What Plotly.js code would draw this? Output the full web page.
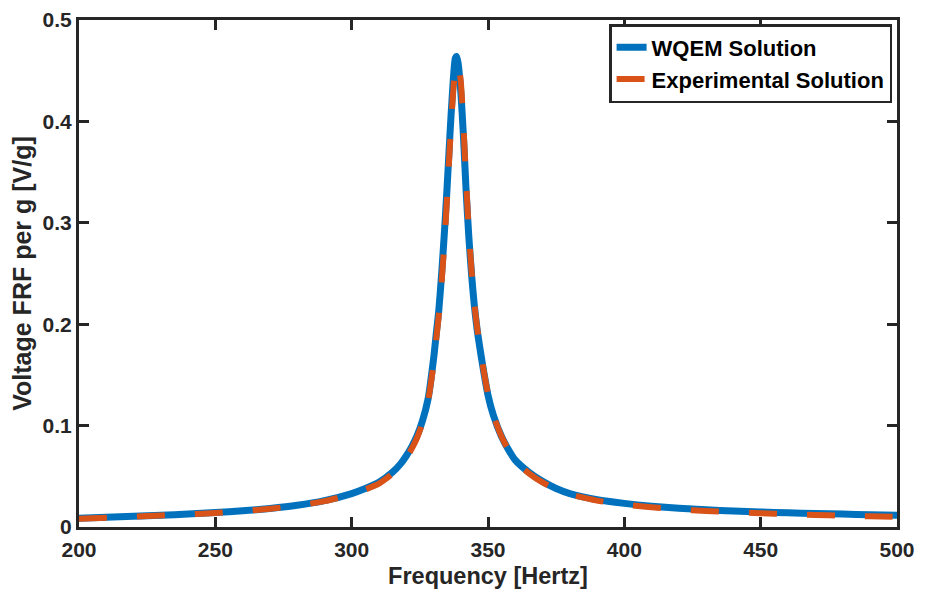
<!DOCTYPE html>
<html>
<head>
<meta charset="utf-8">
<script src="https://cdn.plot.ly/plotly-3.0.1.min.js"></script>
<style>html,body{margin:0;padding:0;background:#fff;}#chart{width:925px;height:592px;}</style>
</head>
<body>
<div id="chart"></div>
<script>
// Frequency samples [Hz]
const freqWQEM = [200,210,220,230,240,250,260,270,280,290,300,305,310,315,318,320,322,324,326,328,330,331,332,333,334,335,336,337,338,338.5,339,340,341,342,343,344,345,346,347,348,350,352,355,358,360,365,370,375,380,390,400,410,420,430,440,450,460,470,480,490,500];
const valWQEM = [0.0086,0.0095,0.0105,0.0116,0.0128,0.0142,0.0160,0.0183,0.0214,0.0260,0.0330,0.0380,0.0440,0.0540,0.0625,0.0700,0.0790,0.0900,0.1050,0.1260,0.1650,0.1900,0.2150,0.2500,0.2900,0.3350,0.3850,0.4300,0.4620,0.4640,0.4580,0.4300,0.3850,0.3300,0.2850,0.2480,0.2180,0.1950,0.1770,0.1600,0.1300,0.1100,0.0890,0.0740,0.0660,0.0540,0.0450,0.0380,0.0330,0.0270,0.0233,0.0205,0.0185,0.0170,0.0158,0.0148,0.0140,0.0133,0.0127,0.0122,0.0117];

const freqExp = [200,210,220,230,240,250,260,270,280,290,300,305,310,315,318,320,322,324,326,328,330,331,332,333,334,335,336,337,338,339,340,341,342,343,344,345,346,347,348,350,352,355,358,360,365,370,375,380,390,400,410,420,430,440,450,460,470,480,490,500];
const valExp = [0.0082,0.0092,0.0102,0.0113,0.0125,0.0139,0.0157,0.0180,0.0210,0.0255,0.0322,0.0370,0.0428,0.0525,0.0605,0.0680,0.0770,0.0880,0.1030,0.1240,0.1600,0.1850,0.2100,0.2420,0.2800,0.3250,0.3750,0.4200,0.4500,0.4570,0.4400,0.3950,0.3400,0.2900,0.2520,0.2200,0.1970,0.1780,0.1610,0.1310,0.1100,0.0890,0.0735,0.0650,0.0530,0.0440,0.0372,0.0322,0.0260,0.0222,0.0194,0.0173,0.0158,0.0146,0.0136,0.0127,0.0119,0.0112,0.0106,0.0100];

const seriesNames = ['WQEM Solution', 'Experimental Solution'];
const xTicks = [200,250,300,350,400,450,500];
const yTicks = [0,0.1,0.2,0.3,0.4,0.5];

const FONT = 'Liberation Sans, Arial, Helvetica, sans-serif';
const AX = '#262626';

const traces = [
  {x: freqWQEM, y: valWQEM, name: seriesNames[0], type: 'scatter', mode: 'lines',
   line: {color: '#0072BD', width: 7, shape: 'spline', smoothing: 0.6}},
  {x: freqExp, y: valExp, name: seriesNames[1], type: 'scatter', mode: 'lines',
   line: {color: '#D95319', width: 6, dash: '28px,30px', shape: 'spline', smoothing: 0.6}}
];

const axisCommon = {
  showgrid: false, zeroline: false, showline: true, linecolor: AX, linewidth: 3,
  mirror: 'ticks', ticks: 'inside', ticklen: 10, tickwidth: 3, tickcolor: AX,
  layer: 'above traces',
  tickfont: {family: FONT, size: 21, color: AX, weight: 'bold'}
};

const layout = {
  width: 925, height: 592,
  margin: {l: 79, r: 28, t: 20, b: 65},
  paper_bgcolor: '#fff', plot_bgcolor: '#fff',
  showlegend: true,
  legend: {x: 0.994, y: 0.992, xanchor: 'right', yanchor: 'top',
    bgcolor: '#fff', bordercolor: AX, borderwidth: 2.5,
    font: {family: FONT, size: 22, color: '#000', weight: 'bold'},
    tracegroupgap: 0, itemwidth: 30},
  xaxis: Object.assign({}, axisCommon, {
    range: [200, 500], tickvals: xTicks, ticktext: xTicks.map(String),
    ticklabelstandoff: 2,
    title: {text: 'Frequency [Hertz]', font: {family: FONT, size: 23.5, color: AX, weight: 'bold'}, standoff: 8}
  }),
  yaxis: Object.assign({}, axisCommon, {
    range: [0, 0.5], tickvals: yTicks, ticktext: yTicks.map(v => v === 0 ? '0' : v.toFixed(1)),
    title: {text: 'Voltage FRF per g [V/g]', font: {family: FONT, size: 25, color: AX, weight: 'bold'}, standoff: 4}
  })
};

Plotly.newPlot('chart', traces, layout, {displayModeBar: false, staticPlot: true});
</script>
</body>
</html>
